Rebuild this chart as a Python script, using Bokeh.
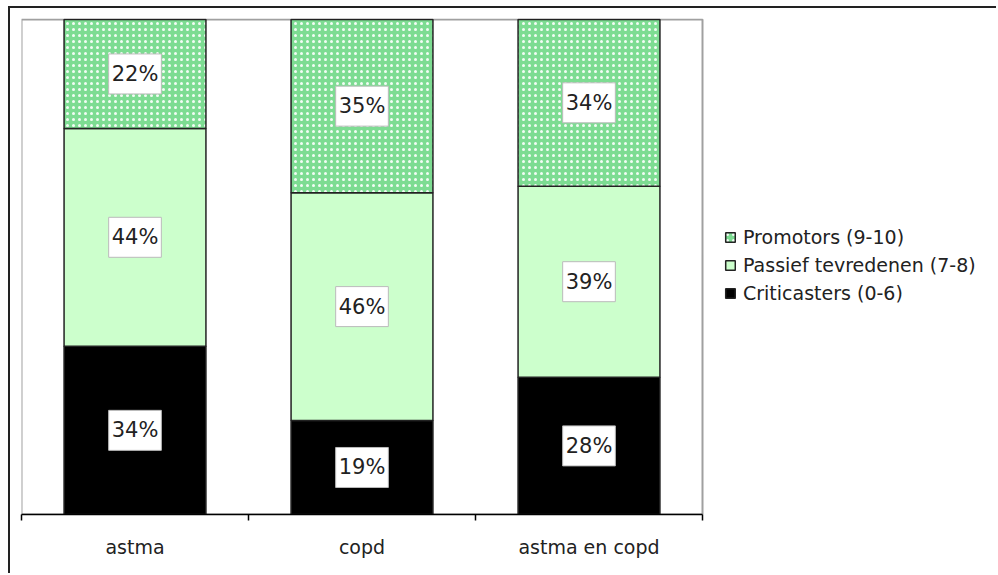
import numpy as np
from bokeh.plotting import figure
from bokeh.models import ColumnDataSource, Range1d, FixedTicker, Legend, LegendItem
from bokeh.core.properties import value
from bokeh.embed import file_html
from bokeh.resources import INLINE

categories = ["astma", "copd", "astma en copd"]
criticasters = [34, 19, 28]
passief = [44, 46, 39]
promotors = [22, 35, 34]
series_names = ["Criticasters (0-6)", "Passief tevredenen (7-8)", "Promotors (9-10)"]

FONT = "DejaVu Sans"
FS = "19px"

vals = np.array([criticasters, passief, promotors], dtype=float)
tot = vals.sum(axis=0)
frac = vals / tot
top = np.cumsum(frac, axis=0)
bottom = top - frac
n = len(categories)
xs = np.arange(n) + 0.5

# layout: plot area 681 x 495 px, extra frame room on the right for the legend
FW = 977
x_end = n * FW / 681
y_end = 1 + 1 / 495

p = figure(width=988, height=567, x_range=Range1d(0, x_end),
           y_range=Range1d(0, y_end), output_backend="svg", toolbar_location=None,
           min_border_left=11, min_border_top=10, min_border_bottom=61, min_border_right=0,
           styles={"margin-left": "8px", "margin-top": "6px",
                   "border-left": "2px solid #222", "border-top": "2px solid #222"})
p.outline_line_color = None
p.xgrid.visible = False
p.ygrid.visible = False
p.yaxis.visible = False

# plot-area box
p.quad(left=[0], right=[n], bottom=[0], top=[1], fill_color=None,
       line_color="#a0a0a0", line_width=2)

fills = ["#000000", "#ccffcc", "#7ddc92"]
renderers = []
for i, name in enumerate(series_names):
    src = ColumnDataSource(dict(x=xs, top=top[i], bottom=bottom[i]))
    kw = {}
    if i == 2:
        kw = dict(hatch_pattern="dot", hatch_color="white", hatch_scale=6,
                  hatch_weight=2, hatch_alpha=0.9)
    r = p.vbar(x="x", top="top", bottom="bottom", width=0.625, source=src,
               fill_color=fills[i], line_color="#222222", line_width=1.5, **kw)
    renderers.append(r)

# value labels
lx, ly, lt = [], [], []
for i in range(vals.shape[0]):
    for j in range(vals.shape[1]):
        lx.append(xs[j])
        ly.append((top[i, j] + bottom[i, j]) / 2)
        lt.append(f"{int(vals[i, j])}%")
lsrc = ColumnDataSource(dict(x=lx, y=ly, t=lt))
p.text(x="x", y="y", text="t", source=lsrc, text_align="center", text_baseline="middle",
       text_font=value(FONT), text_font_size="21px", text_color="#222222",
       background_fill_color="white", border_line_color="#bbbbbb", border_line_width=1,
       padding=(3, 8))

ax = p.xaxis[0]
ax.bounds = (0, n)
ax.ticker = FixedTicker(ticks=list(xs), minor_ticks=list(range(n + 1)))
ax.major_label_overrides = {float(x): c for x, c in zip(xs, categories)}
ax.major_tick_line_color = None
ax.major_tick_out = 0
ax.major_tick_in = 0
ax.minor_tick_out = 6
ax.minor_tick_in = 0
ax.minor_tick_line_color = "black"
ax.minor_tick_line_width = 1.5
ax.axis_line_color = "black"
ax.axis_line_width = 1.5
ax.major_label_standoff = 15
ax.major_label_text_font = FONT
ax.major_label_text_font_size = FS
ax.major_label_text_color = "#222222"

items = [LegendItem(label=series_names[i], renderers=[renderers[i]]) for i in [2, 1, 0]]
legend = Legend(items=items, location=(693, 200), border_line_alpha=0,
                background_fill_alpha=0, margin=0, padding=10,
                glyph_width=12, glyph_height=12, label_standoff=7,
                label_height=20, spacing=6,
                label_text_font=FONT, label_text_font_size=FS,
                label_text_color="#222222")
p.add_layout(legend)

open("out.html", "w").write(file_html(p, INLINE))
